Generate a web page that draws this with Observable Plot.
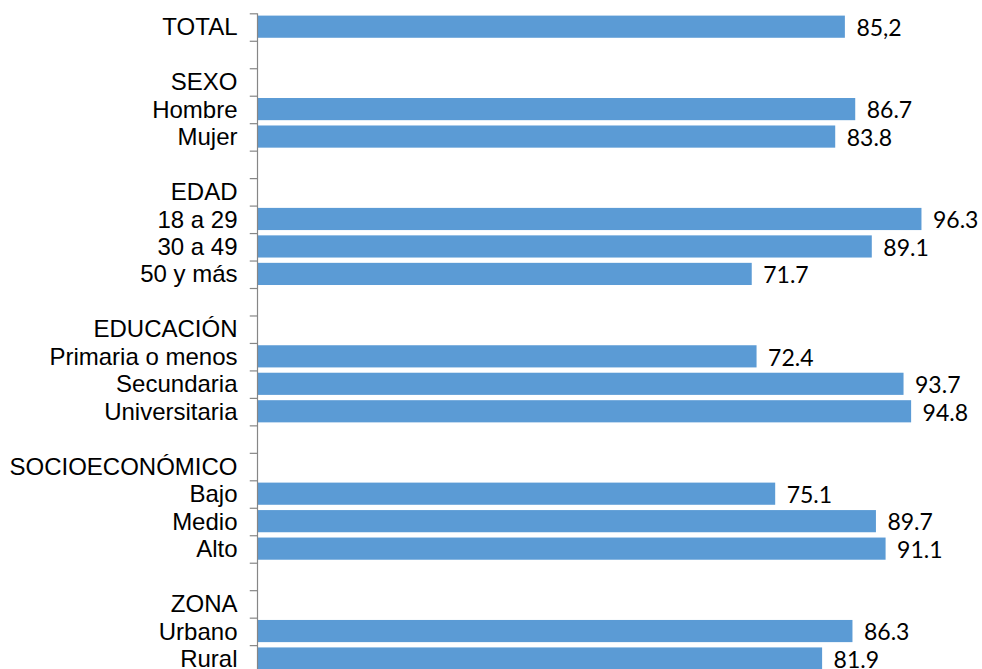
<!DOCTYPE html>
<html>
<head>
<meta charset="utf-8">
<script src="https://cdn.jsdelivr.net/npm/d3@7"></script>
<script src="https://cdn.jsdelivr.net/npm/@observablehq/plot@0.6"></script>
<style>
  html, body { margin: 0; padding: 0; background: #fff; overflow: hidden; }
  #chart svg { display: block; overflow: visible; }
</style>
</head>
<body>
<div id="chart"></div>
<script>
const rows = ["TOTAL", "", "SEXO", "Hombre", "Mujer", "", "EDAD", "18 a 29", "30 a 49", "50 y más", "",
  "EDUCACIÓN", "Primaria o menos", "Secundaria", "Universitaria", "",
  "SOCIOECONÓMICO", "Bajo", "Medio", "Alto", "", "ZONA", "Urbano", "Rural"];
const values = [85.2, null, null, 86.7, 83.8, null, null, 96.3, 89.1, 71.7, null,
  null, 72.4, 93.7, 94.8, null,
  null, 75.1, 89.7, 91.1, null, null, 86.3, 81.9];
const valueLabels = ["85,2", "", "", "86.7", "83.8", "", "", "96.3", "89.1", "71.7", "",
  "", "72.4", "93.7", "94.8", "",
  "", "75.1", "89.7", "91.1", "", "", "86.3", "81.9"];

const data = rows.map((r, i) => ({i, row: r, value: values[i], label: valueLabels[i]}));
const bars = data.filter(d => d.value != null);

const W = 982, H = 669, Y0 = 13.3, Y1 = 672.6;
const step = (Y1 - Y0) / rows.length;

const chart = Plot.plot({
  width: W,
  height: H,
  marginTop: 0,
  marginBottom: 0,
  marginLeft: 257,
  marginRight: 35,
  x: {domain: [0, 100], axis: null},
  y: {domain: d3.range(rows.length), range: [Y0, Y1], padding: 0, round: false, axis: null},
  marks: [
    Plot.barX(bars, {x: "value", y: "i", fill: "#5B9BD5", insetTop: 2.3, insetBottom: 3}),
    Plot.ruleY(data, {y: "i", x1: -1.05, x2: 0, dy: -step / 2, stroke: "#868686", strokeWidth: 1.2}),
    Plot.ruleX([0], {y1: 0, y2: rows.length - 1, dy: 0, stroke: "#868686", strokeWidth: 1.2}),
    Plot.text(data, {x: 0, y: "i", text: "row", textAnchor: "end", dx: -20,
      fontFamily: "'Liberation Sans', Arial, sans-serif", fontSize: 24, fill: "#000"}),
    Plot.text(bars, {x: "value", y: "i", text: "label", textAnchor: "start", dx: 11, dy: 1,
      fontFamily: "Lato, Carlito, sans-serif", fontSize: 23, fill: "#000"})
  ]
});
document.getElementById("chart").appendChild(chart);
</script>
</body>
</html>
